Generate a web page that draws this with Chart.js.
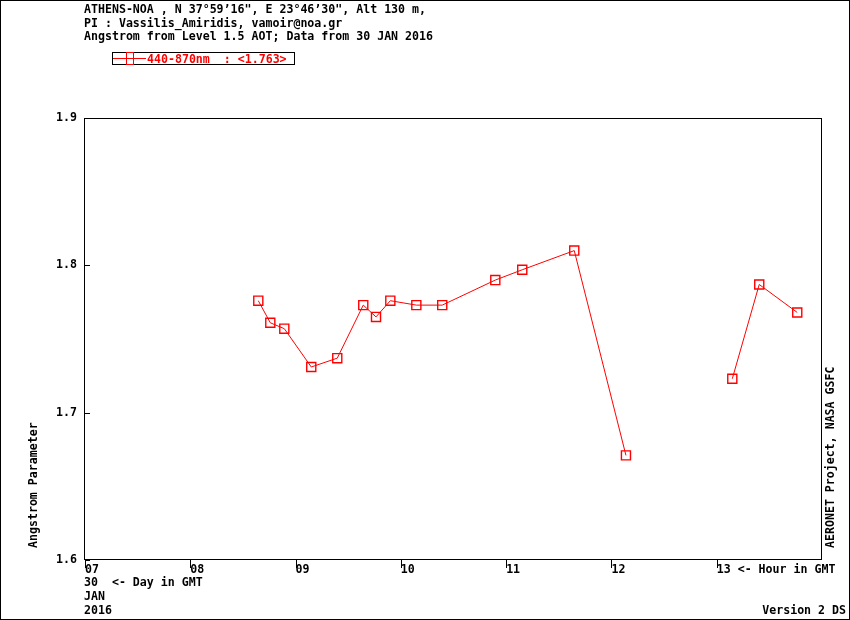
<!DOCTYPE html>
<html>
<head>
<meta charset="utf-8">
<script src="https://cdn.jsdelivr.net/npm/chart.js@4.4.0/dist/chart.umd.min.js"></script>
<style>
  html, body { margin: 0; padding: 0; background: #fff; }
  #wrap { width: 850px; height: 620px; }
</style>
</head>
<body>
<div id="wrap"><canvas id="angChart" width="850" height="620"></canvas></div>
<script>
// Observation times (decimal hour, GMT) and Angstrom 440-870nm values
const hours = [8.646, 8.760, 8.893, 9.149, 9.396, 9.643, 9.764, 9.900, 10.147,
               10.393, 10.897, 11.153, 11.647, 12.138, 13.148, 13.404, 13.765];
const angstrom = [1.776, 1.761, 1.757, 1.731, 1.737, 1.773, 1.765, 1.776, 1.773,
                  1.773, 1.790, 1.797, 1.810, 1.671, 1.723, 1.787, 1.768];

const hourTicks = [7, 8, 9, 10, 11, 12, 13];
const hourLabels = ['07', '08', '09', '10', '11', '12', '13 <- Hour in GMT'];
const valueTicks = [1.6, 1.7, 1.8, 1.9];

const titleLines = [
    'ATHENS-NOA , N 37\u00b059\u201916", E 23\u00b046\u201930", Alt 130 m,',
    'PI : Vassilis_Amiridis, vamoir@noa.gr',
    'Angstrom from Level 1.5 AOT; Data from 30 JAN 2016'
];
const seriesLabel = '440-870nm  : <1.763>';
const dateLines = ['30  <- Day in GMT', 'JAN', '2016'];

const FONT = "bold 11.6px 'DejaVu Sans Mono'";
const RED = '#ff0000';

// Draws frame, inward/outward tick marks, legend box and all the side texts
const decorations = {
    id: 'decorations',
    afterDraw(chart) {
        const c = chart.ctx;
        const a = chart.chartArea;
        const xs = chart.scales.x;
        const ys = chart.scales.y;
        c.save();
        c.lineWidth = 1;
        c.strokeStyle = '#000';

        // outer frame
        c.strokeRect(0.5, 0.5, 849, 619);
        // plot box
        c.strokeRect(Math.round(a.left) - 0.5, Math.round(a.top) + 0.5,
                     Math.round(a.right - a.left), Math.round(a.bottom - a.top) - 1);

        // x tick marks pointing down
        c.beginPath();
        hourTicks.forEach(h => {
            const px = Math.round(xs.getPixelForValue(h)) + 0.5;
            c.moveTo(px, a.bottom);
            c.lineTo(px, a.bottom + 8);
        });
        // y tick marks pointing in
        valueTicks.forEach(v => {
            const py = Math.round(ys.getPixelForValue(v)) + 0.5;
            c.moveTo(a.left, py);
            c.lineTo(a.left + 5, py);
        });
        c.stroke();

        c.font = FONT;
        c.fillStyle = '#000';
        c.textBaseline = 'alphabetic';
        c.textAlign = 'left';
        titleLines.forEach((t, i) => c.fillText(t, 84, 13 + i * 13.5));
        dateLines.forEach((t, i) => c.fillText(t, 84, 586 + i * 14));
        c.textAlign = 'right';
        c.fillText('Version 2 DS', 846, 614);

        // rotated axis texts
        c.textAlign = 'left';
        c.save();
        c.translate(37, 548);
        c.rotate(-Math.PI / 2);
        c.fillText('Angstrom Parameter', 0, 0);
        c.restore();
        c.save();
        c.translate(834, 548);
        c.rotate(-Math.PI / 2);
        c.fillText('AERONET Project, NASA GSFC', 0, 0);
        c.restore();

        // legend
        c.strokeRect(112.5, 52.5, 182, 12);
        c.strokeStyle = RED;
        c.beginPath();
        c.moveTo(113, 58.5);
        c.lineTo(146, 58.5);
        c.stroke();
        c.strokeRect(126.5, 52.5, 7, 12);
        c.fillStyle = RED;
        c.fillText(seriesLabel, 147, 62.5);
        c.restore();
    }
};

new Chart(document.getElementById('angChart').getContext('2d'), {
    type: 'line',
    data: {
        datasets: [{
            label: seriesLabel,
            data: hours.map((h, i) => ({ x: h, y: angstrom[i] })),
            borderColor: RED,
            borderWidth: 1,
            backgroundColor: 'transparent',
            pointStyle: 'rect',
            pointRadius: 6.4,
            pointBorderWidth: 1.4,
            pointBorderColor: RED,
            pointBackgroundColor: 'transparent',
            tension: 0,
            fill: false,
            // no line across the gap between 12 and 13 GMT
            segment: {
                borderColor: ctx => (ctx.p1.parsed.x - ctx.p0.parsed.x > 0.75 ? 'transparent' : RED)
            }
        }]
    },
    options: {
        responsive: false,
        devicePixelRatio: 1,
        animation: false,
        layout: { padding: { top: 118, right: 28, left: 0, bottom: 0 } },
        plugins: {
            legend: { display: false },
            title: { display: false },
            tooltip: { enabled: false }
        },
        scales: {
            x: {
                type: 'linear',
                min: 7,
                max: 14,
                afterBuildTicks: scale => { scale.ticks = hourTicks.map(v => ({ value: v })); },
                afterFit: scale => { scale.height = 60; },
                grid: { display: false, drawTicks: false },
                border: { display: false },
                ticks: {
                    font: { family: 'DejaVu Sans Mono', size: 11.6, weight: 'bold' },
                    color: '#000',
                    align: 'start',
                    padding: 3,
                    maxRotation: 0,
                    autoSkip: false,
                    callback: v => hourLabels[hourTicks.indexOf(v)]
                }
            },
            y: {
                min: 1.6,
                max: 1.9,
                afterBuildTicks: scale => { scale.ticks = valueTicks.map(v => ({ value: v })); },
                afterFit: scale => { scale.width = 85; },
                grid: { display: false, drawTicks: false },
                border: { display: false },
                ticks: {
                    font: { family: 'DejaVu Sans Mono', size: 11.6, weight: 'bold' },
                    color: '#000',
                    padding: 8,
                    callback: v => v.toFixed(1)
                }
            }
        }
    },
    plugins: [decorations]
});
</script>
</body>
</html>
